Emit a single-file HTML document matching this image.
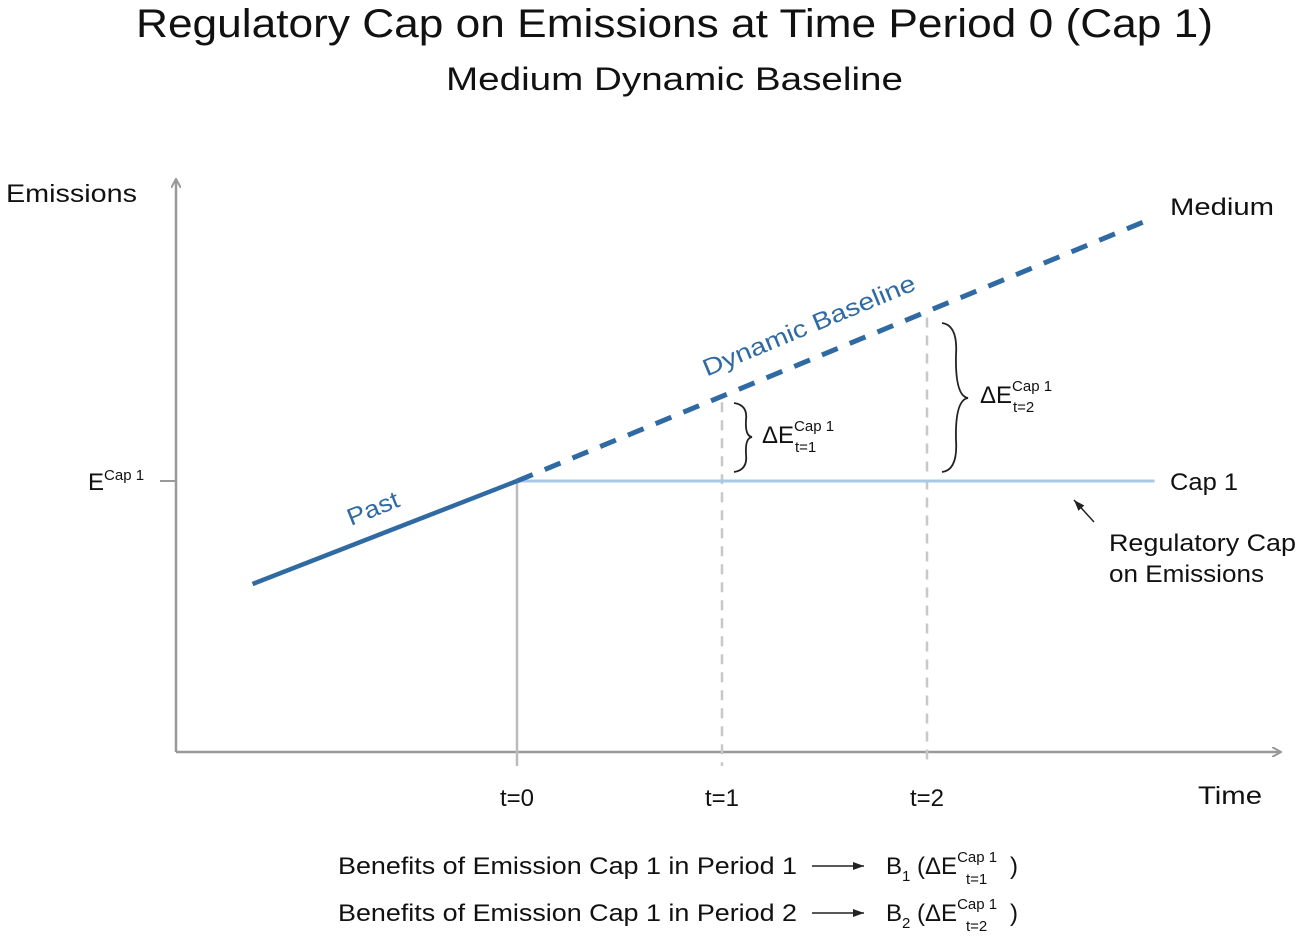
<!DOCTYPE html>
<html><head><meta charset="utf-8"><style>
body{margin:0;background:#fff;}
svg{display:block;font-family:"Liberation Sans",sans-serif;}
</style></head><body>
<svg width="1299" height="936" viewBox="0 0 1299 936">
<defs>
<marker id="ah" markerWidth="10" markerHeight="10" refX="8" refY="5" orient="auto" markerUnits="userSpaceOnUse"><path d="M0,0 L9,5 L0,10" fill="none" stroke="#999" stroke-width="2"/></marker>
<marker id="ak" markerWidth="12" markerHeight="10" refX="11" refY="5" orient="auto" markerUnits="userSpaceOnUse"><path d="M0,1 L11,5 L0,9 Z" fill="#222"/></marker>
</defs>
<text x="136" y="37" font-size="40" textLength="1077" lengthAdjust="spacingAndGlyphs" fill="#111">Regulatory Cap on Emissions at Time Period 0 (Cap 1)</text>
<text x="446" y="90" font-size="32" textLength="457" lengthAdjust="spacingAndGlyphs" fill="#111">Medium Dynamic Baseline</text>
<g id="plot"></g>
<text x="6" y="202" font-size="25" textLength="131" lengthAdjust="spacingAndGlyphs" fill="#111">Emissions</text>
<text x="1198" y="804" font-size="25" textLength="64" lengthAdjust="spacingAndGlyphs" fill="#111">Time</text>
<text x="88" y="490" font-size="24" fill="#111">E<tspan font-size="15" dy="-10">Cap 1</tspan></text>
<text x="1170" y="215" font-size="24" textLength="104" lengthAdjust="spacingAndGlyphs" fill="#111">Medium</text>
<text x="1170" y="490" font-size="24" textLength="68" lengthAdjust="spacingAndGlyphs" fill="#111">Cap 1</text>
<text x="1109" y="551" font-size="24" textLength="187" lengthAdjust="spacingAndGlyphs" fill="#111">Regulatory Cap</text>
<text x="1109" y="582" font-size="24" textLength="155" lengthAdjust="spacingAndGlyphs" fill="#111">on Emissions</text>
<line x1="1094" y1="522" x2="1074" y2="500" stroke="#222" stroke-width="1.5" marker-end="url(#ak)"/>
<text transform="translate(812,333) rotate(-22.5)" font-size="24" fill="#2f6aa3" text-anchor="middle" textLength="228" lengthAdjust="spacingAndGlyphs">Dynamic Baseline</text>
<text transform="translate(376,516) rotate(-21.8)" font-size="24" fill="#2f6aa3" text-anchor="middle" textLength="54" lengthAdjust="spacingAndGlyphs">Past</text>
<path d="M734,403 Q748,405 746,420 Q745,436 752,437 Q745,438 746,454 Q748,470 734,472" fill="none" stroke="#222" stroke-width="1.8"/>
<path d="M942,323 Q958,325 956,355 Q955,396 968,398 Q955,400 956,440 Q958,470 942,472" fill="none" stroke="#222" stroke-width="1.8"/>
<text x="762" y="443" font-size="24" fill="#111">ΔE<tspan font-size="15" dy="-12">Cap 1</tspan><tspan font-size="15" x="795" dy="21">t=1</tspan></text>
<text x="980" y="403" font-size="24" fill="#111">ΔE<tspan font-size="15" dy="-12">Cap 1</tspan><tspan font-size="15" x="1013" dy="21">t=2</tspan></text>
<text x="338" y="874" font-size="24" textLength="459" lengthAdjust="spacingAndGlyphs" fill="#111">Benefits of Emission Cap 1 in Period 1</text>
<text x="338" y="921" font-size="24" textLength="459" lengthAdjust="spacingAndGlyphs" fill="#111">Benefits of Emission Cap 1 in Period 2</text>
<line x1="812" y1="866" x2="864" y2="866" stroke="#222" stroke-width="1.5" marker-end="url(#ak)"/>
<line x1="812" y1="913" x2="864" y2="913" stroke="#222" stroke-width="1.5" marker-end="url(#ak)"/>
<text x="886" y="874" font-size="24" fill="#111">B<tspan font-size="15" dy="7">1</tspan><tspan dy="-7"> (ΔE</tspan><tspan font-size="15" dy="-12">Cap 1</tspan><tspan font-size="15" x="966" dy="22">t=1</tspan><tspan x="1010" dy="-10">)</tspan></text>
<text x="886" y="921" font-size="24" fill="#111">B<tspan font-size="15" dy="7">2</tspan><tspan dy="-7"> (ΔE</tspan><tspan font-size="15" dy="-12">Cap 1</tspan><tspan font-size="15" x="966" dy="22">t=2</tspan><tspan x="1010" dy="-10">)</tspan></text>
</svg>
<script>
const pastTimes=[-1.29,0];
const pastValues=[62,100];
const baselineTimes=[0,3.07];
const baselineValues=[100,196];
const capValue=100;
const capTimes=[0,3.11];
const periodTimes=[0,1,2];
const periodLabels=["t=0","t=1","t=2"];
const NS="http://www.w3.org/2000/svg";
const xs=t=>517+t*205;
const ys=e=>752-e*2.71;
const g=document.getElementById('plot');
function mk(tag,attrs){const el=document.createElementNS(NS,tag);for(const k in attrs)el.setAttribute(k,attrs[k]);g.appendChild(el);return el;}
function baseAt(t){return baselineValues[0]+(baselineValues[1]-baselineValues[0])*(t-baselineTimes[0])/(baselineTimes[1]-baselineTimes[0]);}
let a=mk('line',{x1:176,y1:752,x2:176,y2:180,stroke:'#999','stroke-width':2.5,'marker-end':'url(#ah)'});


a=mk('line',{x1:176,y1:752,x2:1280,y2:752,stroke:'#999','stroke-width':2.5,'marker-end':'url(#ah)'});


a=mk('line',{x1:160,y1:ys(capValue),x2:176,y2:ys(capValue),stroke:'#999','stroke-width':2});


periodTimes.forEach((t,i)=>{
  const x=xs(t);
  const top=i===0?ys(capValue):ys(baseAt(t))+6;
  const l=mk('line',{x1:x,y1:top,x2:x,y2:766,stroke:i===0?'#bbb':'#c8c8c8','stroke-width':2.5,'stroke-dasharray':i===0?'none':'10,8'});
  
  
  const tx=mk('text',{x:x,y:806,'font-size':24,'text-anchor':'middle',fill:'#111'});
  tx.textContent=periodLabels[i];
  
  
});
let c=mk('line',{x1:xs(capTimes[0]),y1:ys(capValue),x2:xs(capTimes[1]),y2:ys(capValue),stroke:'#a9c8e4','stroke-width':3});


let p=mk('line',{x1:xs(pastTimes[0]),y1:ys(pastValues[0]),x2:xs(pastTimes[1]),y2:ys(pastValues[1]),stroke:'#2f6aa3','stroke-width':4.5});


let b=mk('line',{x1:xs(baselineTimes[0]),y1:ys(baselineValues[0]),x2:xs(baselineTimes[1]),y2:ys(baselineValues[1]),stroke:'#2f6aa3','stroke-width':5,'stroke-dasharray':'17,13'});


</script>
</body></html>
